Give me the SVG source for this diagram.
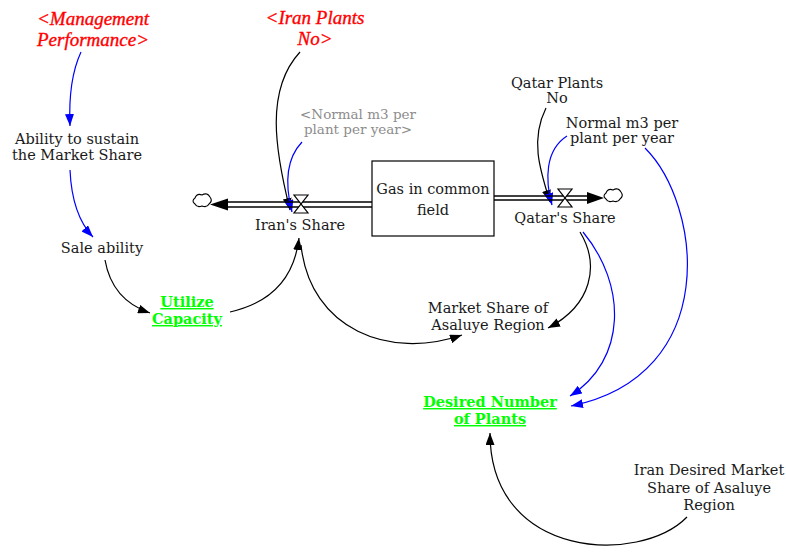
<svg xmlns="http://www.w3.org/2000/svg" width="786" height="552" viewBox="0 0 786 552">
<defs>
<style>
text{font-family:"DejaVu Serif","Liberation Serif",serif;font-size:14.5px;text-anchor:middle;fill:#1a1a1a}
.shadow{font-family:"Liberation Serif","Times New Roman",serif;fill:#ff0000;font-style:italic;font-size:19px;stroke:#ff0000;stroke-width:0.35}
.gray{fill:#8c8c8c;font-size:13.5px}
.green{fill:#00ff00;font-weight:bold;text-decoration:underline}
.lk{fill:none;stroke:#000;stroke-width:1.2}
.lb{fill:none;stroke:#0000ff;stroke-width:1.2}
.pipe{stroke:#000;stroke-width:1.3;fill:none}
.cloud{fill:#fff;stroke:#000;stroke-width:1.1}
.valve{fill:#fff;stroke:#000;stroke-width:1.2}
</style>
<marker id="ak" viewBox="0 0 12 9" refX="12" refY="4.5" markerWidth="12" markerHeight="9" markerUnits="userSpaceOnUse" orient="auto"><path d="M0,0 L12,4.5 L0,9 Z" fill="#000"/></marker>
<marker id="ab" viewBox="0 0 12 9" refX="12" refY="4.5" markerWidth="12" markerHeight="9" markerUnits="userSpaceOnUse" orient="auto"><path d="M0,0 L12,4.5 L0,9 Z" fill="#0000ff"/></marker>
</defs>
<rect width="786" height="552" fill="#fff"/>

<g id="connectors">
<path class="lb" d="M81,52 Q68,80 70,126" marker-end="url(#ab)"/>
<path class="lb" d="M70,170 Q72,215 93,237" marker-end="url(#ab)"/>
<path class="lk" d="M105,260 Q112,300 150,313" marker-end="url(#ak)"/>
<path class="lk" d="M230,312 Q292,298 299,238" marker-end="url(#ak)"/>
<path class="lk" d="M301,245 C310,330 390,360 462,335" marker-end="url(#ak)"/>
<path class="lk" d="M580,232 C600,265 592,305 548,328" marker-end="url(#ak)"/>
<path class="lb" d="M583,232 C627,285 627,360 570,396" marker-end="url(#ab)"/>
<path class="lb" d="M645,148 C702,205 722,375 571,406" marker-end="url(#ab)"/>
<path class="lk" d="M687,517 C640,565 490,560 490,433" marker-end="url(#ak)"/>
<path class="lk" d="M300,52 C265,90 275,150 290,210" marker-end="url(#ak)"/>
<path class="lb" d="M302,142 C285,160 285,185 292,212" marker-end="url(#ab)"/>
<path class="lk" d="M546,108 C530,140 540,170 550,202" marker-end="url(#ak)"/>
<path class="lb" d="M567,136 C545,150 545,180 552,205" marker-end="url(#ab)"/>
</g>

<g id="flow-iran">
<line class="pipe" x1="226" y1="202" x2="372" y2="202"/>
<line class="pipe" x1="226" y1="207" x2="372" y2="207"/>
<path d="M210,204.5 L228,198.5 L228,210.5 Z" fill="#000"/>
<path class="cloud" d="M195,198 q2,-5 7,-3 q5,-3 8,2 q3,4 -1,7 q-2,4 -7,2 q-5,2 -7,-2 q-4,-3 0,-6 Z"/>
<path class="valve" d="M294,195 L308,195 L294,213 L308,213 Z"/>
<text x="300" y="230">Iran's Share</text>
</g>

<g id="flow-qatar">
<line class="pipe" x1="494" y1="196" x2="590" y2="196"/>
<line class="pipe" x1="494" y1="200" x2="590" y2="200"/>
<path d="M604,198 L587,192 L587,204 Z" fill="#000"/>
<path class="cloud" d="M606,193 q2,-5 7,-3 q5,-3 8,2 q3,4 -1,7 q-2,4 -7,2 q-5,2 -7,-2 q-4,-3 0,-6 Z"/>
<path class="valve" d="M558,189 L572,189 L558,207 L572,207 Z"/>
<text x="565" y="223">Qatar's Share</text>
</g>

<g id="stock-gas">
<rect x="372" y="161" width="122" height="75" fill="#fff" stroke="#000" stroke-width="1.2"/>
<text x="433" y="194">Gas in common</text>
<text x="433" y="215">field</text>
</g>

<g id="management-performance">
<text class="shadow" x="93" y="25">&lt;Management</text>
<text class="shadow" x="93" y="46">Performance&gt;</text>
</g>
<g id="iran-plants-no">
<text class="shadow" x="315" y="24">&lt;Iran Plants</text>
<text class="shadow" x="315" y="45">No&gt;</text>
</g>
<g id="normal-shadow">
<text class="gray" x="358" y="119">&lt;Normal m3 per</text>
<text class="gray" x="358" y="134">plant per year&gt;</text>
</g>
<g id="ability">
<text x="77" y="144">Ability to sustain</text>
<text x="77" y="160">the Market Share</text>
</g>
<g id="sale-ability">
<text x="102" y="253">Sale ability</text>
</g>
<g id="utilize-capacity">
<text class="green" x="187" y="307">Utilize</text>
<text class="green" x="187" y="324">Capacity</text>
</g>
<g id="qatar-plants-no">
<text x="557" y="88">Qatar Plants</text>
<text x="557" y="103">No</text>
</g>
<g id="normal-m3">
<text x="622" y="128">Normal m3 per</text>
<text x="622" y="143">plant per year</text>
</g>
<g id="market-share">
<text x="488" y="313">Market Share of</text>
<text x="488" y="330">Asaluye Region</text>
</g>
<g id="desired-number">
<text class="green" x="490" y="407">Desired Number</text>
<text class="green" x="490" y="424">of Plants</text>
</g>
<g id="iran-desired">
<text x="709" y="475">Iran Desired Market</text>
<text x="709" y="493">Share of Asaluye</text>
<text x="709" y="510">Region</text>
</g>
</svg>
